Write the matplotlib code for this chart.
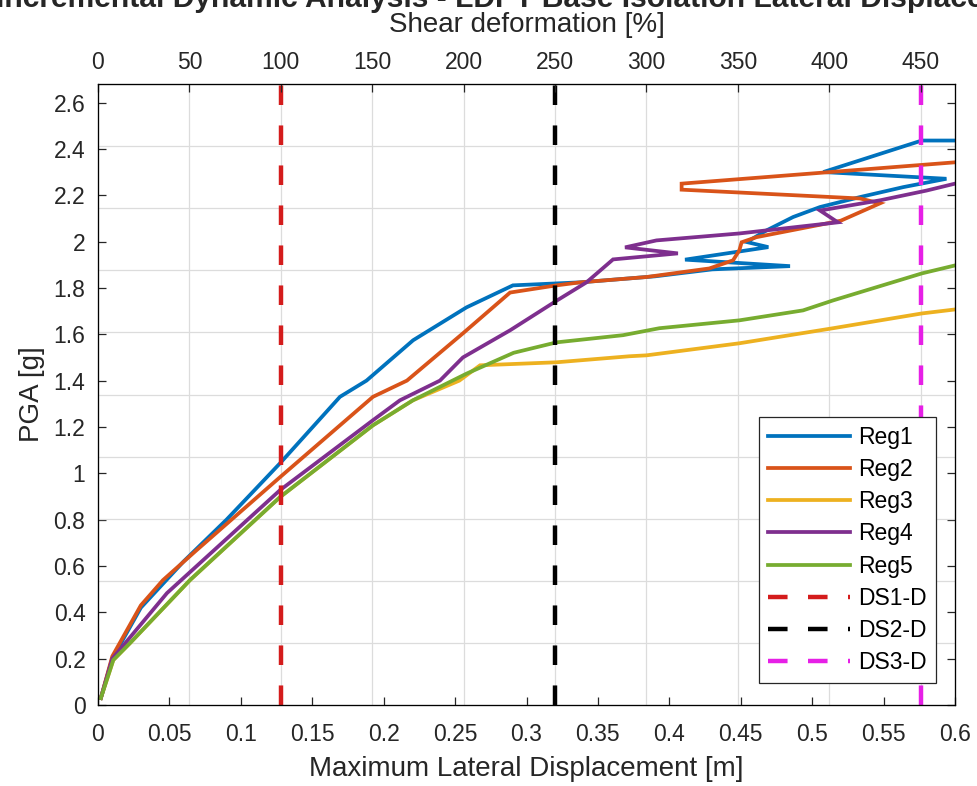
import matplotlib
matplotlib.use('Agg')
import matplotlib.pyplot as plt

plt.rcParams['font.family'] = ['Liberation Sans', 'DejaVu Sans']

# Maximum lateral displacement [m] / PGA [g] for each record set
reg1_x = [0.002, 0.010, 0.030, 0.060, 0.090, 0.1274, 0.1694, 0.188, 0.2206, 0.258, 0.2905,
          0.3375, 0.39, 0.43, 0.4845, 0.411, 0.4693, 0.4542, 0.468, 0.4867, 0.5055, 0.5335,
          0.5638, 0.594, 0.5078, 0.5767, 0.600]
reg1_y = [0.03, 0.20, 0.42, 0.62, 0.80, 1.043, 1.33, 1.40, 1.574, 1.716, 1.811,
          1.824, 1.85, 1.88, 1.894, 1.922, 1.976, 1.998, 2.048, 2.106, 2.149, 2.192,
          2.235, 2.271, 2.30, 2.436, 2.436]

reg2_x = [0.002, 0.010, 0.030, 0.0455, 0.069, 0.1274, 0.1925, 0.2163, 0.2555, 0.2885, 0.321,
          0.3375, 0.384, 0.428, 0.4446, 0.449, 0.4506, 0.461, 0.52, 0.5475, 0.5335, 0.4086,
          0.4086, 0.600]
reg2_y = [0.03, 0.21, 0.43, 0.539, 0.668, 0.983, 1.33, 1.40, 1.604, 1.78, 1.811,
          1.824, 1.847, 1.884, 1.919, 1.962, 1.997, 2.019, 2.09, 2.165, 2.186, 2.224,
          2.25, 2.342]

reg3_x = [0.002, 0.0107, 0.0224, 0.0644, 0.1274, 0.1925, 0.2205, 0.253, 0.2675, 0.321, 0.372,
          0.384, 0.449, 0.5146, 0.577, 0.600]
reg3_y = [0.03, 0.194, 0.267, 0.539, 0.897, 1.207, 1.315, 1.40, 1.466, 1.479, 1.505,
          1.509, 1.561, 1.626, 1.69, 1.707]

reg4_x = [0.002, 0.010, 0.0483, 0.1274, 0.1925, 0.2114, 0.2394, 0.2555, 0.2885, 0.3214, 0.342,
          0.3606, 0.406, 0.369, 0.391, 0.449, 0.518, 0.5055, 0.5475, 0.580, 0.600]
reg4_y = [0.03, 0.20, 0.483, 0.927, 1.229, 1.315, 1.40, 1.50, 1.617, 1.746, 1.824,
          1.923, 1.949, 1.975, 2.005, 2.035, 2.083, 2.134, 2.178, 2.22, 2.25]

reg5_x = [0.002, 0.0107, 0.0224, 0.0644, 0.1274, 0.1925, 0.2205, 0.258, 0.291, 0.321, 0.3676,
          0.393, 0.449, 0.4936, 0.5146, 0.577, 0.600]
reg5_y = [0.03, 0.194, 0.267, 0.539, 0.897, 1.207, 1.315, 1.43, 1.52, 1.565, 1.596,
          1.626, 1.66, 1.703, 1.746, 1.863, 1.897]

# damage-state limits, in shear deformation [%]
ds_names = ['DS1-D', 'DS2-D', 'DS3-D']
ds_shear = [100, 250, 450]
M_PER_PCT = 0.00128          # rubber height: 100 % shear = 0.128 m

shear_ticks = [0, 50, 100, 150, 200, 250, 300, 350, 400, 450]
disp_ticks = [0, 0.05, 0.1, 0.15, 0.2, 0.25, 0.3, 0.35, 0.4, 0.45, 0.5, 0.55, 0.6]
disp_labels = ['0', '0.05', '0.1', '0.15', '0.2', '0.25', '0.3', '0.35', '0.4', '0.45',
               '0.5', '0.55', '0.6']
pga_ticks = [0, 0.2, 0.4, 0.6, 0.8, 1, 1.2, 1.4, 1.6, 1.8, 2, 2.2, 2.4, 2.6]
pga_labels = ['0', '0.2', '0.4', '0.6', '0.8', '1', '1.2', '1.4', '1.6', '1.8', '2',
              '2.2', '2.4', '2.6']

XMAX = 0.6
YMAX = 2.68

COLS = ['#0072BD', '#D95319', '#EDB120', '#7E2F8E', '#77AC30']
DS_COLS = ['#D41C1C', '#000000', '#E61FE6']
INK = '#262626'
TICK_FS = 16.5
LABEL_FS = 20

fig = plt.figure(figsize=(9.78, 7.86), dpi=100)
ax = fig.add_axes([98 / 978, 1 - 705 / 786, 857 / 978, 621 / 786])

# grid belongs to the (shear) overlay axes in the original: fixed 10 rows,
# columns at the shear ticks
ax.set_xticks([s * M_PER_PCT for s in shear_ticks], minor=True)
ax.set_yticks([YMAX * k / 10 for k in range(11)], minor=True)
ax.grid(which='minor', color='#dcdcdc', lw=0.9)
ax.grid(which='major', visible=False)
ax.set_axisbelow(True)

series = [(reg1_x, reg1_y, 'Reg1'), (reg2_x, reg2_y, 'Reg2'), (reg3_x, reg3_y, 'Reg3'),
          (reg4_x, reg4_y, 'Reg4'), (reg5_x, reg5_y, 'Reg5')]
for (xs, ys, name), c in zip(series, COLS):
    ax.plot(xs, ys, color=c, lw=2.7, label=name, solid_joinstyle='miter')

for name, s, c in zip(ds_names, ds_shear, DS_COLS):
    ax.axvline(s * M_PER_PCT, color=c, lw=3.2, ls=(0, (4.4, 4.6)), label=name)

ax.set_xlim(0, XMAX)
ax.set_ylim(0, YMAX)
ax.set_xticks(disp_ticks)
ax.set_xticklabels(disp_labels)
ax.set_yticks(pga_ticks)
ax.set_yticklabels(pga_labels)
ax.tick_params(which='major', direction='in', length=6, width=0.9, labelsize=TICK_FS,
               colors=INK, right=True, top=True)
ax.tick_params(axis='x', pad=13)
ax.tick_params(axis='y', pad=9)
ax.tick_params(which='minor', length=0)
for sp in ax.spines.values():
    sp.set_color(INK)
    sp.set_linewidth(0.9)
ax.set_xlabel('Maximum Lateral Displacement [m]', fontsize=LABEL_FS, color=INK, labelpad=7)
ax.set_ylabel('PGA [g]', fontsize=LABEL_FS, color=INK, labelpad=6)

top = ax.twiny()
top.set_xlim(0, XMAX / M_PER_PCT)
top.set_xticks(shear_ticks)
top.set_xticklabels([str(s) for s in shear_ticks])
top.tick_params(direction='in', length=6, width=0.9, labelsize=TICK_FS, colors=INK, pad=7)
top.set_xlabel('Shear deformation [%]', fontsize=LABEL_FS, color=INK, labelpad=14)

leg = ax.legend(loc='lower right', bbox_to_anchor=(0.978, 0.035), borderaxespad=0,
                fontsize=TICK_FS, handlelength=3.6, handletextpad=0.35, labelspacing=0.4,
                fancybox=False, framealpha=1, edgecolor=INK, borderpad=0.4)
leg.get_frame().set_linewidth(0.9)

fig.text(526 / 978, 1 - 7 / 786,
         'Incremental Dynamic Analysis - LDPT Base Isolation Lateral Displacement',
         ha='center', va='baseline', fontsize=21.6, fontweight='bold', color=INK)

fig.savefig('out.png', dpi=100, facecolor='white')
